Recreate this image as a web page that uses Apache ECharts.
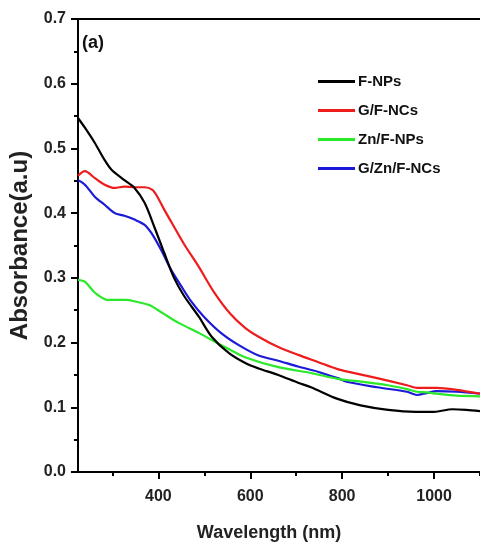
<!DOCTYPE html>
<html>
<head>
<meta charset="utf-8">
<script src="https://cdn.jsdelivr.net/npm/echarts@6/dist/echarts.min.js"></script>
<style>html,body{margin:0;padding:0;background:#fff;}#c{width:480px;height:549px;}</style>
</head>
<body>
<div id="c"></div>
<script>
const seriesNames = ['F-NPs', 'G/F-NCs', 'Zn/F-NPs', 'G/Zn/F-NCs'];
const colors = ['#000000', '#ee1c1c', '#2ae82a', '#1a1ad8'];

const wlFNPs = [225,240,262,283,298,326,348,370,391,413,434,456,488,516,553,590,618,661,704,732,790,840,900,960,1000,1040,1070,1100];
const absFNPs = [0.547,0.532,0.508,0.482,0.467,0.451,0.439,0.416,0.379,0.338,0.300,0.272,0.240,0.209,0.184,0.168,0.160,0.150,0.138,0.131,0.113,0.103,0.096,0.093,0.093,0.097,0.096,0.094];

const wlGFNCs = [225,240,262,283,305,326,348,370,387,398,413,434,456,488,521,557,590,618,661,704,747,790,812,876,941,963,1006,1049,1100];
const absGFNCs = [0.458,0.465,0.454,0.444,0.439,0.441,0.440,0.440,0.436,0.425,0.405,0.379,0.352,0.317,0.278,0.244,0.222,0.209,0.193,0.181,0.170,0.159,0.155,0.145,0.134,0.130,0.130,0.127,0.121];

const wlZnFNPs = [225,240,262,290,330,352,380,408,445,488,516,553,590,661,732,790,850,900,941,963,984,1006,1049,1100];
const absZnFNPs = [0.297,0.294,0.277,0.266,0.266,0.263,0.258,0.246,0.230,0.215,0.204,0.190,0.177,0.162,0.153,0.144,0.139,0.134,0.128,0.124,0.123,0.121,0.118,0.117];

const wlGZnFNCs = [225,240,262,283,305,326,348,370,385,406,428,449,471,499,536,575,618,661,704,747,790,812,876,941,963,984,1006,1049,1100];
const absGZnFNCs = [0.451,0.444,0.425,0.413,0.400,0.396,0.390,0.382,0.369,0.343,0.312,0.288,0.264,0.240,0.215,0.196,0.180,0.172,0.163,0.155,0.145,0.139,0.131,0.124,0.119,0.122,0.125,0.124,0.121];

const xLabelValues = [400, 600, 800, 1000];
const xMinorValues = [300, 500, 700, 900, 1100];

const FONT = "'Liberation Sans', Arial, sans-serif";
const wl = [wlFNPs, wlGFNCs, wlZnFNPs, wlGZnFNCs];
const ab = [absFNPs, absGFNCs, absZnFNPs, absGZnFNCs];

const chart = echarts.init(document.getElementById('c'), null, {renderer: 'canvas'});
chart.setOption({
  animation: false,
  backgroundColor: '#fff',
  grid: {left: 78, top: 19, width: 406, height: 453, show: false},
  legend: {
    orient: 'vertical', left: 313, top: 69, itemWidth: 37, itemHeight: 14, itemGap: 14,
    icon: 'path://M0,0 L37,0 L37,3 L0,3 Z',
    textStyle: {fontFamily: FONT, fontWeight: 'bold', fontSize: 15, color: '#111', padding: [0, 0, 0, -2]},
    data: seriesNames
  },
  graphic: [{type: 'text', left: 82, top: 34, style: {text: '(a)', font: "bold 18px 'Liberation Sans', Arial, sans-serif", fill: '#111'}}],
  xAxis: [{
    type: 'value', min: 225, max: 1100, position: 'bottom',
    name: 'Wavelength (nm)', nameLocation: 'middle', nameGap: 52,
    nameTextStyle: {fontFamily: FONT, fontWeight: 'bold', fontSize: 18, color: '#222', padding: [0, 20, 0, 0]},
    axisLine: {show: true, lineStyle: {color: '#000', width: 2}},
    axisTick: {show: true, length: 7, lineStyle: {color: '#000', width: 2}, customValues: xLabelValues},
    axisLabel: {show: true, margin: 17, fontFamily: FONT, fontWeight: 'bold', fontSize: 16, color: '#222', customValues: xLabelValues, formatter: v => String(v)},
    splitLine: {show: false}
  }, {
    type: 'value', min: 225, max: 1100, position: 'bottom',
    axisLine: {show: false},
    axisTick: {show: true, length: 4, lineStyle: {color: '#000', width: 2}, customValues: xMinorValues},
    axisLabel: {show: false},
    splitLine: {show: false}
  }, {
    type: 'value', min: 225, max: 1100, position: 'top',
    axisLine: {show: true, lineStyle: {color: '#000', width: 2}},
    axisTick: {show: false}, axisLabel: {show: false}, splitLine: {show: false}
  }],
  yAxis: {
    type: 'value', min: 0, max: 0.7, interval: 0.1,
    name: 'Absorbance(a.u)', nameLocation: 'middle', nameGap: 42, nameRotate: 90,
    nameTextStyle: {fontFamily: FONT, fontWeight: 'bold', fontSize: 24, color: '#222'},
    axisLine: {show: true, lineStyle: {color: '#000', width: 2}},
    axisTick: {show: true, length: 7, lineStyle: {color: '#000', width: 2}},
    minorTick: {show: true, splitNumber: 2, length: 4, lineStyle: {color: '#000', width: 2}},
    axisLabel: {margin: 12, fontFamily: FONT, fontWeight: 'bold', fontSize: 16, color: '#222', formatter: v => v.toFixed(1)},
    splitLine: {show: false}
  },
  series: seriesNames.map((n, i) => ({
    name: n, type: 'line', xAxisIndex: 0, smooth: 0.3, symbol: 'none',
    lineStyle: {color: colors[i], width: 2.2}, itemStyle: {color: colors[i]},
    data: wl[i].map((x, j) => [x, ab[i][j]]),
    z: 4 - i
  }))
});
</script>
</body>
</html>
